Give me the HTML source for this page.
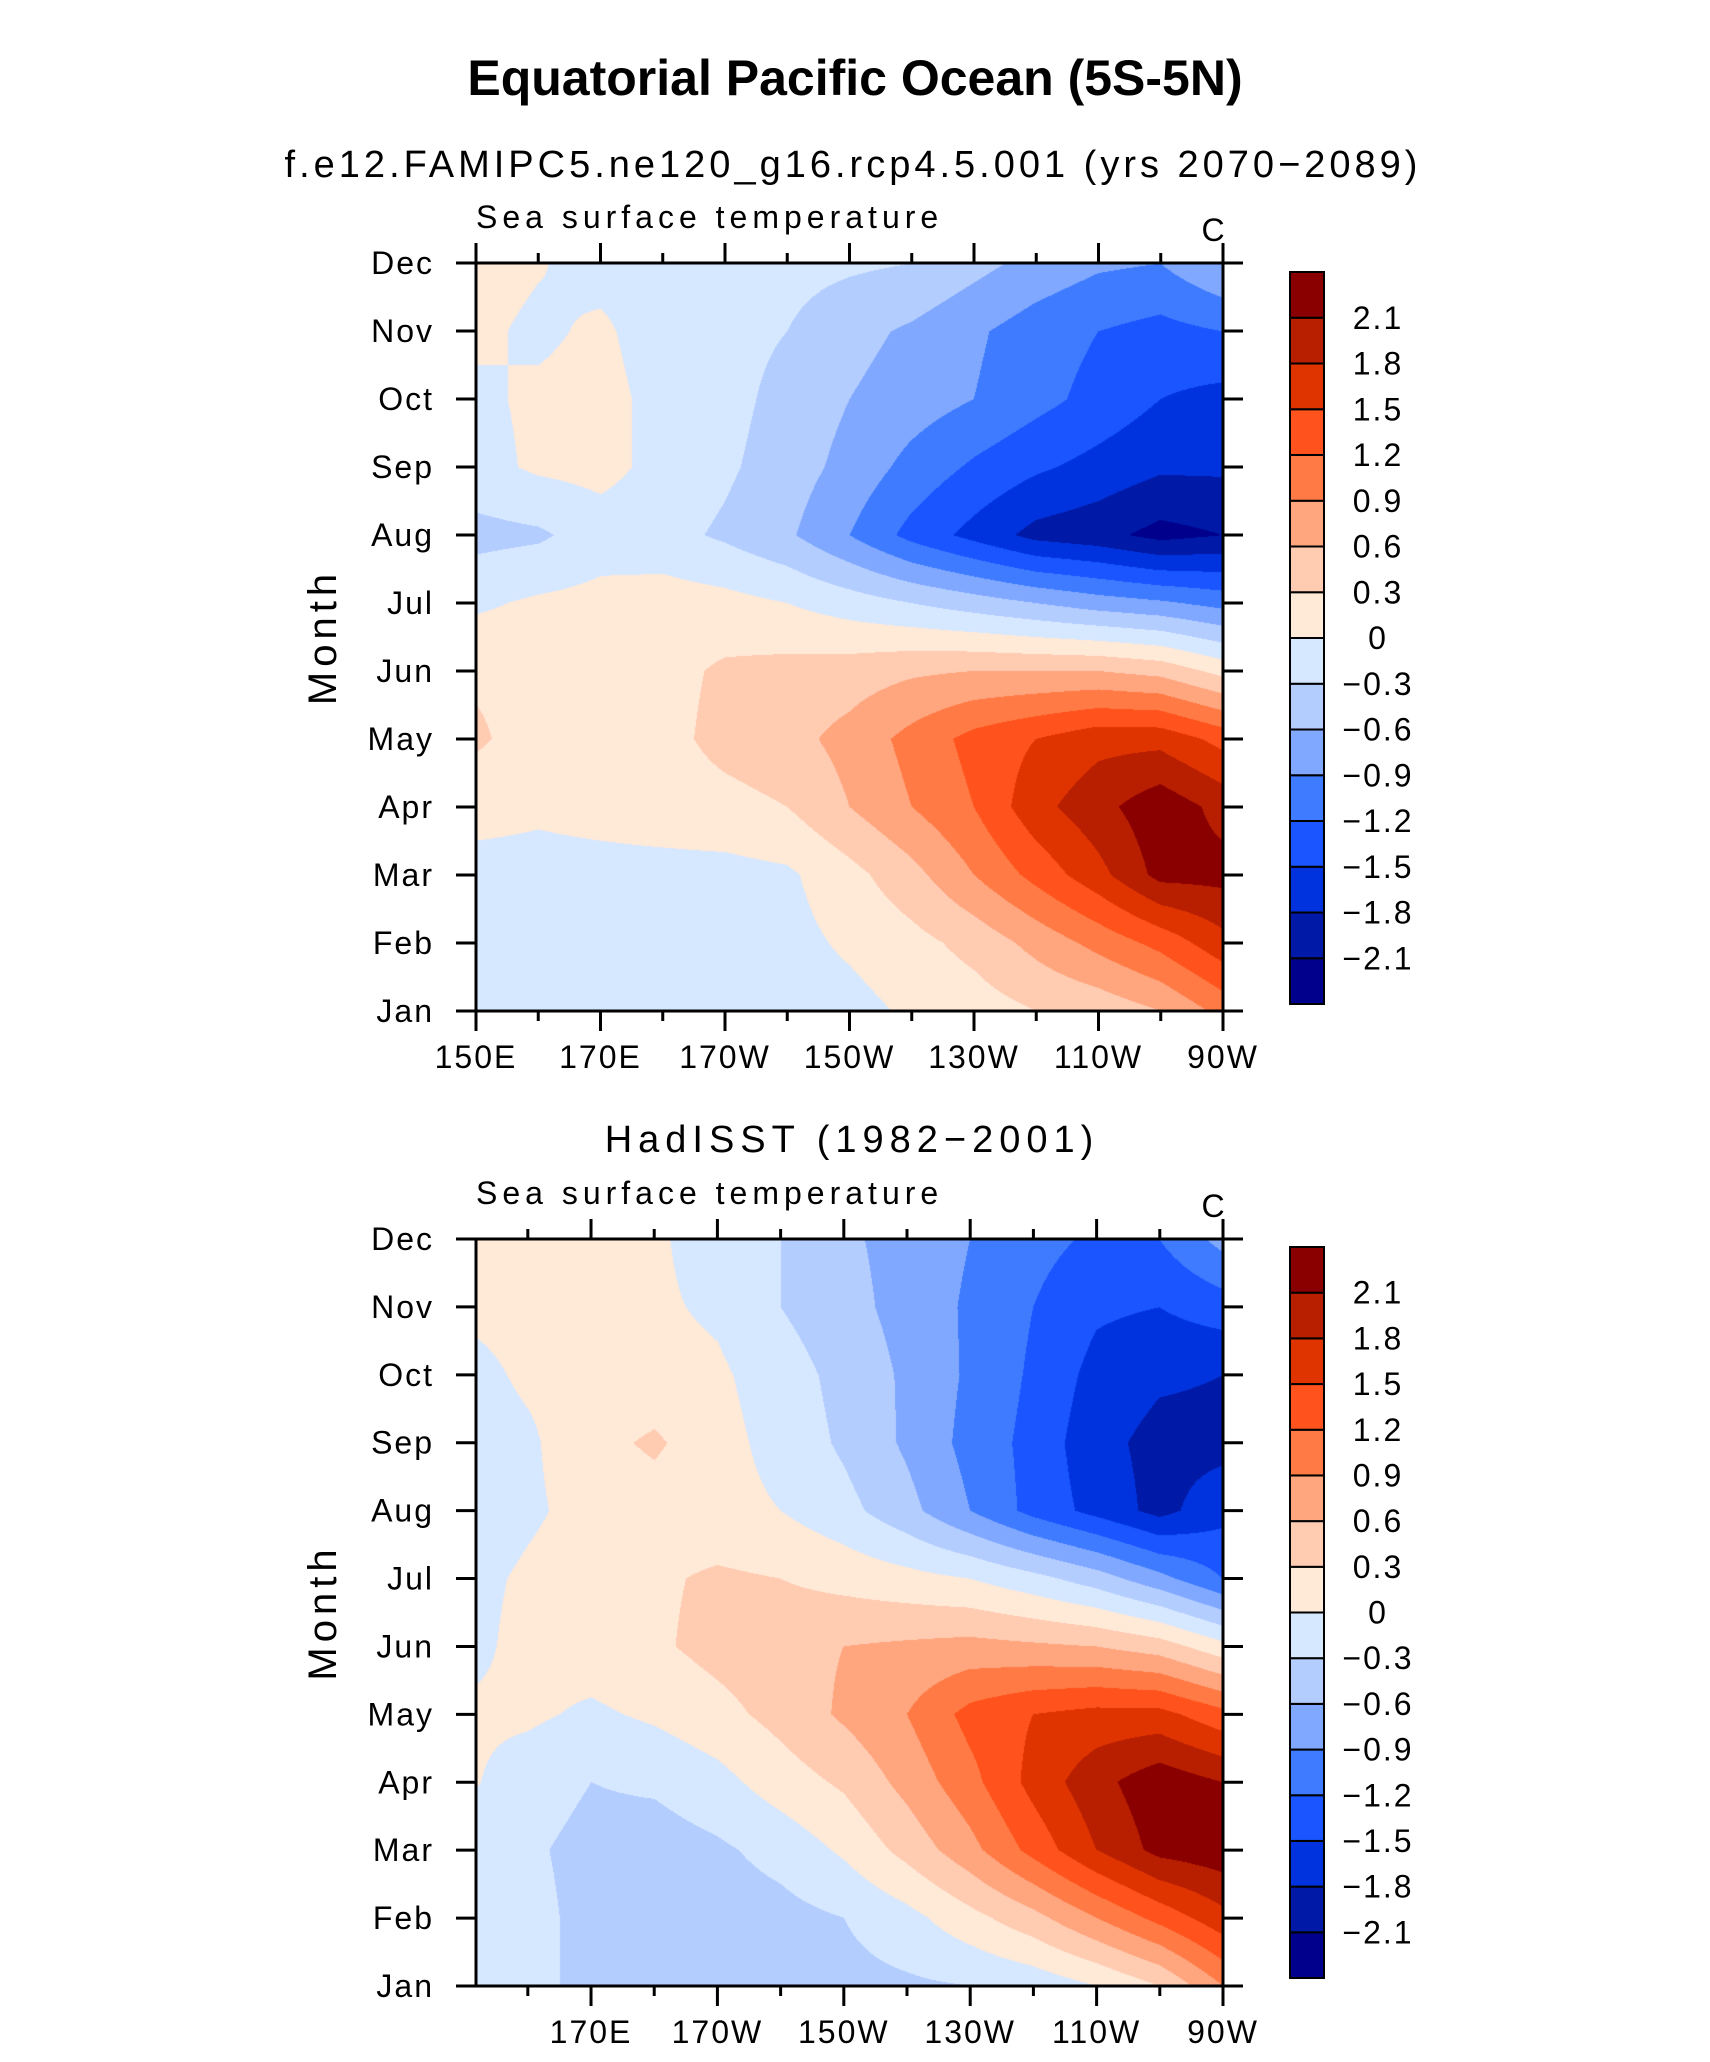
<!DOCTYPE html>
<html><head><meta charset="utf-8"><style>
html,body{margin:0;padding:0;background:#fff;}
#root{position:relative;width:1710px;height:2062px;overflow:hidden;}
svg text{font-family:"Liberation Sans","DejaVu Sans",sans-serif;fill:#000;}
canvas{position:absolute;}
</style></head><body>
<div id="root">
<canvas id="c1" width="747" height="748" style="left:476px;top:263px"></canvas>
<canvas id="c2" width="747" height="747" style="left:476px;top:1239px"></canvas>
<svg id="svg" width="1710" height="2062" style="position:absolute;left:0;top:0">
<text x="855" y="95" font-size="50" font-weight="bold" text-anchor="middle">Equatorial Pacific Ocean (5S-5N)</text>
<text x="853" y="177" font-size="38" letter-spacing="4" text-anchor="middle">f.e12.FAMIPC5.ne120_g16.rcp4.5.001 (yrs 2070−2089)</text>
<text x="852" y="1152" font-size="38" letter-spacing="6" text-anchor="middle">HadISST (1982−2001)</text>
</svg>
</div>
<script>
// ---- data ----
const months = ["Jan","Feb","Mar","Apr","May","Jun","Jul","Aug","Sep","Oct","Nov","Dec"];
const lons = [150,160,170,180,190,200,210,220,230,240,250,260,270];
const lonLabels1 = ["150E","170E","170W","150W","130W","110W","90W"];
const lonLabels2 = ["170E","170W","150W","130W","110W","90W"];
const levels = [-2.1,-1.8,-1.5,-1.2,-0.9,-0.6,-0.3,0,0.3,0.6,0.9,1.2,1.5,1.8,2.1];
const levelLabels = ["2.1","1.8","1.5","1.2","0.9","0.6","0.3","0","−0.3","−0.6","−0.9","−1.2","−1.5","−1.8","−2.1"];
const colors = ["#00008c","#0019a6","#0033dd","#1a55ff","#3f7bff","#80a8ff","#b4cdff","#d6e8ff","#ffe9d7","#ffcbb1","#ffa67f","#ff7a45","#ff521c","#e03400","#b81f00","#8a0000"];
const model = [
 [-0.15,-0.15,-0.15,-0.15,-0.15,-0.15,-0.1,0.05,0.15,0.3,0.4,0.6,1.0],
 [-0.15,-0.15,-0.15,-0.15,-0.15,-0.1,0.05,0.2,0.4,0.7,1.0,1.3,1.7],
 [-0.1,-0.1,-0.1,-0.1,-0.1,-0.05,0.2,0.5,0.9,1.3,1.7,2.2,2.2],
 [0.1,0.05,0.1,0.15,0.2,0.3,0.6,0.9,1.2,1.7,2.0,2.3,2.0],
 [0.35,0.15,0.15,0.2,0.4,0.5,0.7,1.0,1.3,1.5,1.7,1.7,1.4],
 [0.25,0.2,0.15,0.2,0.35,0.4,0.45,0.55,0.6,0.6,0.6,0.5,0.2],
 [-0.05,0.05,0.1,0.15,0.1,0.0,-0.15,-0.3,-0.45,-0.6,-0.75,-0.85,-1.0],
 [-0.4,-0.35,-0.15,-0.2,-0.35,-0.55,-0.9,-1.3,-1.6,-1.9,-2.0,-2.2,-2.1],
 [-0.1,0.05,0.1,-0.1,-0.25,-0.45,-0.7,-1.0,-1.25,-1.45,-1.6,-1.75,-1.75],
 [-0.05,0.05,0.1,-0.1,-0.2,-0.4,-0.6,-0.75,-0.9,-1.1,-1.3,-1.5,-1.6],
 [0.05,-0.05,0.05,-0.15,-0.2,-0.3,-0.5,-0.65,-0.85,-1.05,-1.2,-1.3,-1.2],
 [0.1,0.02,-0.1,-0.1,-0.15,-0.2,-0.25,-0.3,-0.5,-0.7,-0.85,-0.9,-0.6]
];
const obs = [
 [0.05,-0.2,-0.4,-0.45,-0.45,-0.45,-0.4,-0.35,-0.3,-0.2,0.0,0.3,0.9],
 [-0.1,-0.2,-0.4,-0.5,-0.45,-0.4,-0.3,-0.1,0.2,0.5,0.9,1.3,1.7],
 [-0.1,-0.25,-0.4,-0.45,-0.35,-0.2,0.05,0.4,0.8,1.3,1.8,2.2,2.3],
 [0.05,-0.15,-0.3,-0.25,-0.1,0.15,0.35,0.7,1.1,1.6,2.0,2.3,2.1],
 [0.05,0.05,-0.05,0.05,0.2,0.4,0.65,0.9,1.3,1.5,1.6,1.6,1.3],
 [-0.1,0.1,0.15,0.25,0.4,0.5,0.6,0.65,0.7,0.65,0.6,0.45,0.1],
 [-0.1,0.05,0.15,0.25,0.35,0.3,0.2,0.1,0.0,-0.2,-0.45,-0.8,-1.2],
 [-0.2,-0.05,0.1,0.15,0.1,0.0,-0.2,-0.5,-0.9,-1.3,-1.6,-1.9,-1.6],
 [-0.15,-0.05,0.2,0.35,0.1,-0.1,-0.35,-0.65,-1.0,-1.3,-1.7,-1.9,-1.9],
 [-0.1,0.05,0.1,0.1,0.05,-0.15,-0.4,-0.65,-0.95,-1.25,-1.6,-1.75,-1.8],
 [0.05,0.1,0.1,0.05,-0.05,-0.3,-0.5,-0.7,-0.95,-1.2,-1.45,-1.5,-1.35],
 [0.1,0.1,0.05,0.05,-0.15,-0.3,-0.55,-0.7,-0.9,-1.1,-1.25,-1.2,-0.8]
];
// ---- rendering ----
const NS="http://www.w3.org/2000/svg";
const svg=document.getElementById('svg');
function hexRgb(h){return [parseInt(h.substr(1,2),16),parseInt(h.substr(3,2),16),parseInt(h.substr(5,2),16)];}
function sample(data,lon,m){
  let fx=(lon-lons[0])/(lons[1]-lons[0]);fx=Math.max(0,Math.min(lons.length-1.0001,fx));
  let fy=Math.max(0,Math.min(months.length-1.0001,m));
  const i=Math.floor(fx),j=Math.floor(fy),a=fx-i,b=fy-j;
  const v00=data[j][i],v10=data[j][i+1],v01=data[j+1][i],v11=data[j+1][i+1];
  return (v00*(1-a)+v10*a)*(1-b)+(v01*(1-a)+v11*a)*b;
}
function draw(id,data,lon0,lon1){
  const cv=document.getElementById(id),ctx=cv.getContext('2d');
  const W=cv.width,H=cv.height,img=ctx.createImageData(W,H);
  const rgb=colors.map(hexRgb);
  for(let y=0;y<H;y++){const m=(H-1-y)/(H-1)*11;
    for(let x=0;x<W;x++){const lon=lon0+(lon1-lon0)*x/(W-1);
      const v=sample(data,lon,m);let k=0;while(k<levels.length&&v>=levels[k])k++;
      const c=rgb[k],p=(y*W+x)*4;img.data[p]=c[0];img.data[p+1]=c[1];img.data[p+2]=c[2];img.data[p+3]=255;}}
  ctx.putImageData(img,0,0);
}
function line(x1,y1,x2,y2,w,name){const l=document.createElementNS(NS,'line');l.setAttribute('x1',x1);l.setAttribute('y1',y1);l.setAttribute('x2',x2);l.setAttribute('y2',y2);l.setAttribute('stroke','#000');l.setAttribute('stroke-width',w);
  
  
  svg.appendChild(l);}
function text(x,y,s,size,anchor,name,ls){const t=document.createElementNS(NS,'text');t.setAttribute('x',x);t.setAttribute('y',y);t.setAttribute('font-size',size);t.setAttribute('text-anchor',anchor);if(ls)t.setAttribute('letter-spacing',ls);t.textContent=s;
  
  
  svg.appendChild(t);return t;}
function panel(L,T,R,B,lon0,lon1,firstLabel,labels,cbTop,cbBot){
  const xs=lon=>L+(lon-lon0)/(lon1-lon0)*(R-L);
  const ys=m=>B-m/11*(B-T);
  const r=document.createElementNS(NS,'rect');r.setAttribute('x',L);r.setAttribute('y',T);r.setAttribute('width',R-L);r.setAttribute('height',B-T);r.setAttribute('fill','none');r.setAttribute('stroke','#000');r.setAttribute('stroke-width',3);
  
  
  svg.appendChild(r);
  months.forEach((mn,i)=>{const y=ys(i);line(L-20,y,L,y,3,'y-tick');line(R,y,R+20,y,3,'y-tick-right');text(L-42,y+11,mn,32,'end','y-tick-label',2);});
  for(let lon=Math.ceil(lon0/10)*10;lon<=lon1;lon+=10){const x=xs(lon);const major=((lon-150)%20===0);const len=major?20:10;
    line(x,B,x,B+len,3,major?'x-tick':'x-minor-tick');line(x,T,x,T-len,3,major?'x-tick-top':'x-minor-tick-top');
    if(major){const idx=(lon-firstLabel)/20;if(idx>=0&&idx<labels.length)text(x,B+57,labels[idx],32,'middle','x-tick-label',2);}}
  const mt=text(0,0,'Month',40,'middle','y-axis-title',5);mt.setAttribute('transform','translate(336,'+((T+B)/2)+') rotate(-90)');
  text(L,T-35,'Sea surface temperature',32,'start','panel-left-string',5);
  text(R-10,T-22,'C',32,'middle','units-label');
  const n=colors.length,h=(cbBot-cbTop)/n;
  for(let k=0;k<n;k++){const rc=document.createElementNS(NS,'rect');rc.setAttribute('x',1290);rc.setAttribute('y',cbTop+(n-1-k)*h);rc.setAttribute('width',34);rc.setAttribute('height',h);rc.setAttribute('fill',colors[k]);rc.setAttribute('stroke','#000');rc.setAttribute('stroke-width',2);
    
    
    svg.appendChild(rc);}
  levelLabels.forEach((s,i)=>text(1378,cbTop+(i+1)*h+11,s,32,'middle','colorbar-label',2));
}
draw('c1',model,150,270);
draw('c2',obs,151.8,270);
panel(476,263,1223,1011,150,270,150,lonLabels1,272,1004);
panel(476,1239,1223,1986,151.8,270,170,lonLabels2,1247,1978);
</script>
</body></html>
